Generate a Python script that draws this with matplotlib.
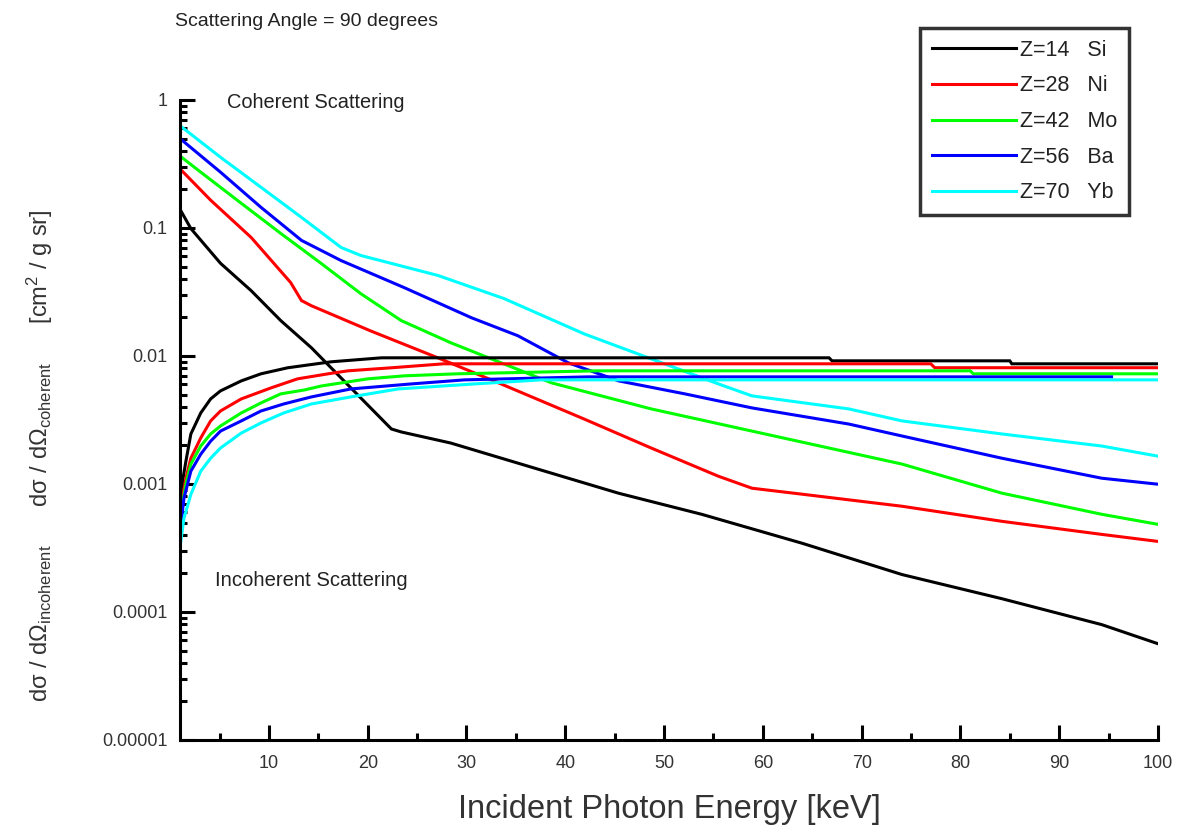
import matplotlib
matplotlib.use("Agg")
import matplotlib.pyplot as plt
from matplotlib.ticker import NullFormatter

# ---------------- data ----------------
labels = ["Z=14   Si", "Z=28   Ni", "Z=42   Mo", "Z=56   Ba", "Z=70   Yb"]
colors = ["#000000", "#ff0000", "#00ff00", "#0000ff", "#00ffff"]

# coherent scattering (decreasing)
si_coh_e = [1.0, 2.1, 5.1, 8.2, 11.2, 14.3, 18.3, 22.4, 23.4, 28.4, 36.9, 45.4, 53.8, 64.0, 74.1, 84.2, 94.3, 100]
si_coh_v = [0.14, 0.099, 0.053, 0.0324, 0.0189, 0.0116, 0.00563, 0.00269, 0.00255, 0.00209, 0.00133,
            0.000847, 0.00058, 0.000344, 0.000196, 0.000127, 0.0000797, 0.0000565]

ni_coh_e = [1.0, 4.1, 8.2, 12.2, 13.3, 14.3, 20.3, 27.1, 33.5, 41.9, 48.7, 55.5, 58.9, 64.0, 74.1, 84.2, 94.3, 100]
ni_coh_v = [0.29, 0.165, 0.0844, 0.0375, 0.0271, 0.0247, 0.0157, 0.00968, 0.00605, 0.00322, 0.00191,
            0.00115, 0.000927, 0.000832, 0.00067, 0.000511, 0.000404, 0.000356]

mo_coh_e = [1.0, 3.1, 7.2, 11.2, 15.3, 19.3, 23.4, 28.4, 38.6, 48.7, 58.9, 74.1, 84.2, 94.3, 100]
mo_coh_v = [0.365, 0.273, 0.156, 0.0907, 0.0528, 0.0307, 0.0189, 0.0127, 0.00617, 0.00386, 0.00259,
            0.00143, 0.000848, 0.00058, 0.000484]

ba_coh_e = [1.0, 5.1, 9.2, 13.3, 17.3, 23.7, 30.5, 35.2, 40.3, 45.4, 52.1, 58.9, 68.7, 74.1, 84.2, 94.3, 100]
ba_coh_v = [0.5, 0.273, 0.145, 0.080, 0.0557, 0.0342, 0.0199, 0.0144, 0.00885, 0.00639, 0.00506,
            0.00393, 0.00294, 0.00237, 0.00159, 0.00111, 0.000996]

yb_coh_e = [1.0, 5.1, 9.2, 13.3, 17.3, 19.3, 27.1, 33.8, 41.9, 48.7, 55.5, 58.9, 68.7, 74.1, 84.2, 94.3, 100]
yb_coh_v = [0.63, 0.357, 0.208, 0.121, 0.0705, 0.061, 0.0426, 0.0281, 0.0149, 0.0095, 0.00605,
            0.00488, 0.00386, 0.00311, 0.00246, 0.00198, 0.00165]

# incoherent scattering (increasing, then flat)
si_inc_e = [1.0, 1.6, 2.1, 3.1, 4.1, 5.1, 7.2, 9.2, 11.9, 16.3, 21.4, 66.7, 67.0, 85.0, 85.2, 100]
si_inc_v = [0.0008, 0.00151, 0.00246, 0.00359, 0.00462, 0.00534, 0.00639, 0.00726, 0.00809, 0.00901,
            0.00968, 0.00968, 0.00917, 0.00917, 0.00869, 0.00869]

ni_inc_e = [1.0, 1.6, 2.1, 3.1, 4.1, 5.1, 7.2, 10.2, 12.9, 16.0, 18.0, 22.4, 27.7, 77.0, 77.4, 100]
ni_inc_v = [0.0006, 0.00111, 0.00159, 0.00229, 0.00311, 0.00372, 0.00462, 0.00563, 0.00663, 0.00726,
            0.00766, 0.00809, 0.00869, 0.00869, 0.0081, 0.0081]

mo_inc_e = [1.0, 1.6, 2.1, 3.1, 4.1, 5.1, 7.2, 9.2, 11.2, 13.6, 15.3, 20.0, 23.7, 29.1, 43.3, 81.0, 81.3, 100]
mo_inc_v = [0.00055, 0.001, 0.00143, 0.00198, 0.00246, 0.00284, 0.00359, 0.0043, 0.00506, 0.00543,
            0.00583, 0.00663, 0.007, 0.00726, 0.00766, 0.00766, 0.00726, 0.00726]

ba_inc_e = [1.0, 1.4, 2.1, 3.1, 4.1, 5.1, 7.2, 9.2, 11.5, 14.3, 18.3, 24.4, 29.8, 42.3, 95.3]
ba_inc_v = [0.00042, 0.000774, 0.00126, 0.00171, 0.00216, 0.00259, 0.00311, 0.00372, 0.00422, 0.00479,
            0.00553, 0.00605, 0.00651, 0.00687, 0.00687]

yb_inc_e = [1.0, 1.4, 2.1, 3.1, 4.1, 5.1, 7.2, 9.2, 11.5, 14.3, 18.3, 23.1, 30.8, 37.6, 100]
yb_inc_v = [0.00032, 0.00054, 0.00083, 0.00126, 0.00159, 0.00191, 0.0025, 0.003, 0.00359, 0.00422,
            0.00479, 0.00553, 0.00605, 0.00651, 0.00651]

coherent = [(si_coh_e, si_coh_v), (ni_coh_e, ni_coh_v), (mo_coh_e, mo_coh_v),
            (ba_coh_e, ba_coh_v), (yb_coh_e, yb_coh_v)]
incoherent = [(si_inc_e, si_inc_v), (ni_inc_e, ni_inc_v), (mo_inc_e, mo_inc_v),
              (ba_inc_e, ba_inc_v), (yb_inc_e, yb_inc_v)]

x_ticks = [10, 20, 30, 40, 50, 60, 70, 80, 90, 100]
x_minor = [5, 15, 25, 35, 45, 55, 65, 75, 85, 95]
y_ticks = [1e-5, 1e-4, 1e-3, 1e-2, 1e-1, 1]
y_tick_labels = ["0.00001", "0.0001", "0.001", "0.01", "0.1", "1"]

# ---------------- figure ----------------
FONT = ["Liberation Sans Narrow", "Liberation Sans", "DejaVu Sans"]
plt.rcParams["font.family"] = FONT
plt.rcParams["mathtext.fontset"] = "custom"
plt.rcParams["mathtext.rm"] = "Liberation Sans"
plt.rcParams["mathtext.it"] = "Liberation Sans"

fig = plt.figure(figsize=(11.77, 8.25), dpi=100)
ax = fig.add_axes([180 / 1177, 1 - 740 / 825, 978 / 1177, 640 / 825])

lw = 2.2
for (e, v), c, lab in zip(coherent, colors, labels):
    ax.plot(e, v, color=c, lw=lw, label=lab, solid_joinstyle="miter")
for (e, v), c in zip(incoherent, colors):
    ax.plot(e, v, color=c, lw=lw, solid_joinstyle="miter")

ax.set_yscale("log")
ax.set_xlim(1, 100)
ax.set_ylim(1e-5, 1)

ax.spines["top"].set_visible(False)
ax.spines["right"].set_visible(False)
for s in ("left", "bottom"):
    ax.spines[s].set_linewidth(2.2)

ax.set_xticks(x_ticks)
ax.set_xticks(x_minor, minor=True)
ax.set_yticks(y_ticks, labels=y_tick_labels)
ax.yaxis.set_minor_locator(matplotlib.ticker.LogLocator(base=10, subs=range(2, 10), numticks=20))
ax.yaxis.set_minor_formatter(NullFormatter())

ax.tick_params(axis="both", which="major", direction="in", length=11, width=2.2,
               labelsize=13, labelcolor="#333333")
ax.tick_params(axis="both", which="minor", direction="in", length=5, width=2.2)
ax.tick_params(axis="x", which="major", pad=11)
ax.tick_params(axis="y", which="major", pad=9)

ax.set_xlabel("Incident Photon Energy [keV]", fontsize=23.5, color="#333333")
ax.xaxis.set_label_coords(0.5, -0.085)
ax.set_ylabel(r"d$\sigma$ / d$\Omega_{\mathrm{incoherent}}$      d$\sigma$ / d$\Omega_{\mathrm{coherent}}$      [cm$^{2}$ / g sr]",
              fontsize=17, color="#333333")
ax.yaxis.set_label_coords(-0.128, 0.445)

fig.text(175 / 1177, 1 - 22 / 825, "Scattering Angle = 90 degrees", fontsize=14,
         color="#222222", va="center", ha="left")
ax.text((227 - 180) / 978, (740 - 103) / 640, "Coherent Scattering", transform=ax.transAxes,
        fontsize=14.4, color="#222222", va="center", ha="left")
ax.text((215 - 180) / 978, (740 - 580) / 640, "Incoherent Scattering", transform=ax.transAxes,
        fontsize=14.6, color="#222222", va="center", ha="left")

leg = fig.legend(loc="upper left", bbox_to_anchor=(920 / 1177, 1 - 28 / 825),
                 fontsize=15.5, frameon=True, fancybox=False, handlelength=3.9,
                 handletextpad=0.2, labelspacing=0.68, borderpad=0.55, borderaxespad=0)
leg.get_frame().set_edgecolor("black")
leg.get_frame().set_linewidth(2.5)
for t in leg.get_texts():
    t.set_color("#222222")

fig.savefig("out.png", dpi=100)
